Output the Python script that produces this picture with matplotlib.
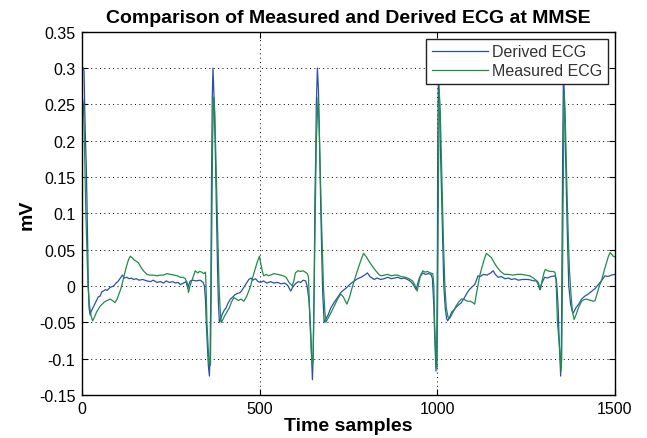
import matplotlib
matplotlib.use("Agg")
import matplotlib.pyplot as plt

# ---- data ----
derived_x = [0, 3, 5, 7, 9, 11, 13, 15, 17, 19, 22, 25, 30, 35, 40, 45, 50, 55, 59, 65, 70, 78, 88, 95, 100, 106, 113, 118, 125, 132, 138, 144, 152, 160, 170, 182, 192, 200, 210, 220, 229, 236, 245, 255, 262, 270, 276, 285, 292, 297, 300, 304, 312, 320, 332, 340, 344, 347, 349, 352, 355, 358, 360, 362, 364, 366, 368, 371, 374, 377, 379, 381, 383, 386, 389, 395, 400, 405, 410, 417, 422, 430, 438, 445, 452, 460, 469, 475, 480, 488, 495, 502, 510, 520, 530, 540, 549, 560, 570, 578, 587, 592, 600, 608, 615, 622, 629, 633, 638, 641, 643, 646, 648, 650, 653, 655, 657, 659, 662, 665, 668, 671, 674, 677, 681, 686, 692, 700, 710, 720, 728, 735, 745, 755, 766, 775, 785, 795, 803, 810, 822, 830, 840, 850, 860, 870, 880, 888, 898, 906, 916, 925, 932, 940, 945, 950, 959, 966, 975, 982, 986, 990, 993, 996, 998, 1000, 1001, 1003, 1006, 1009, 1012, 1015, 1018, 1022, 1026, 1029, 1035, 1040, 1048, 1055, 1060, 1067, 1075, 1083, 1090, 1098, 1105, 1110, 1114, 1120, 1130, 1140, 1150, 1157, 1163, 1171, 1180, 1190, 1200, 1208, 1218, 1228, 1240, 1255, 1265, 1272, 1279, 1284, 1288, 1294, 1302, 1310, 1320, 1331, 1335, 1337, 1340, 1342, 1345, 1347, 1349, 1351, 1353, 1355, 1358, 1361, 1364, 1367, 1370, 1375, 1380, 1383, 1390, 1398, 1406, 1415, 1425, 1435, 1445, 1453, 1460, 1466, 1472, 1480, 1490, 1500]
derived_y = [0.30, 0.30, 0.295, 0.24, 0.20, 0.17, 0.12, 0.06, 0.0, -0.03, -0.04, -0.035, -0.03, -0.025, -0.02, -0.015, -0.014, -0.008, -0.007, -0.005, -0.006, -0.002, 0.0, 0.004, 0.006, 0.01, 0.015, 0.011, 0.012, 0.01, 0.011, 0.009, 0.01, 0.008, 0.009, 0.007, 0.006, 0.008, 0.005, 0.006, 0.004, 0.007, 0.005, 0.006, 0.004, 0.005, 0.002, 0.004, 0.006, -0.003, 0.002, 0.007, 0.008, 0.007, 0.008, 0.005, 0.0, -0.02, -0.05, -0.08, -0.11, -0.124, -0.09, 0.0, 0.15, 0.26, 0.30, 0.26, 0.20, 0.12, 0.07, 0.02, -0.02, -0.05, -0.046, -0.038, -0.033, -0.03, -0.024, -0.018, -0.016, -0.012, -0.01, -0.009, -0.004, 0.002, 0.009, 0.011, 0.008, 0.01, 0.006, 0.005, 0.007, 0.004, 0.006, 0.004, 0.005, 0.003, 0.004, 0.001, -0.007, -0.002, 0.003, 0.006, 0.005, 0.008, 0.007, 0.0, -0.018, -0.04, -0.06, -0.10, -0.129, -0.10, 0.0, 0.12, 0.17, 0.25, 0.30, 0.27, 0.20, 0.12, 0.05, -0.01, -0.05, -0.045, -0.04, -0.03, -0.022, -0.015, -0.009, -0.006, -0.002, 0.003, 0.007, 0.01, 0.012, 0.015, 0.018, 0.013, 0.009, 0.011, 0.009, 0.01, 0.012, 0.01, 0.011, 0.012, 0.01, 0.011, 0.009, 0.006, 0.002, -0.005, 0.004, 0.012, 0.018, 0.016, 0.017, 0.016, 0.01, -0.028, -0.08, -0.117, -0.09, 0.05, 0.20, 0.30, 0.25, 0.18, 0.12, 0.06, 0.0, -0.03, -0.045, -0.048, -0.042, -0.036, -0.032, -0.028, -0.026, -0.023, -0.017, -0.01, -0.005, -0.001, 0.002, 0.008, 0.014, 0.013, 0.016, 0.015, 0.018, 0.021, 0.016, 0.012, 0.013, 0.01, 0.011, 0.009, 0.01, 0.008, 0.009, 0.009, 0.008, 0.007, 0.007, 0.002, -0.005, 0.004, 0.012, 0.011, 0.013, 0.014, 0.008, -0.005, -0.03, -0.062, -0.10, -0.124, -0.09, 0.05, 0.20, 0.30, 0.25, 0.18, 0.11, 0.05, 0.0, -0.025, -0.035, -0.037, -0.03, -0.025, -0.018, -0.014, -0.011, -0.007, -0.003, 0.002, 0.006, 0.01, 0.014, 0.013, 0.015, 0.016]

measured_x = [0, 3, 5, 8, 10, 13, 16, 20, 24, 29, 35, 40, 45, 50, 56, 62, 70, 78, 85, 92, 98, 104, 111, 118, 125, 130, 135, 140, 146, 152, 158, 165, 172, 182, 190, 200, 210, 219, 228, 238, 248, 258, 268, 276, 284, 290, 295, 299, 303, 309, 314, 318, 325, 330, 337, 342, 347, 349, 351, 354, 356, 359, 361, 363, 365, 367, 370, 373, 376, 379, 382, 385, 388, 391, 394, 400, 407, 414, 420, 427, 434, 440, 447, 455, 462, 468, 474, 480, 486, 492, 499, 503, 507, 511, 518, 524, 530, 540, 550, 559, 566, 574, 582, 588, 591, 596, 600, 607, 615, 622, 628, 634, 637, 639, 641, 644, 646, 648, 650, 653, 656, 659, 664, 667, 670, 673, 676, 679, 683, 686, 690, 697, 705, 712, 720, 728, 735, 740, 745, 752, 760, 770, 778, 785, 792, 800, 806, 813, 820, 828, 835, 841, 850, 860, 870, 880, 888, 898, 910, 920, 930, 936, 943, 948, 953, 959, 965, 972, 980, 987, 990, 992, 995, 997, 999, 1001, 1003, 1005, 1008, 1011, 1014, 1017, 1021, 1025, 1030, 1034, 1040, 1046, 1052, 1060, 1067, 1075, 1080, 1086, 1093, 1100, 1105, 1110, 1114, 1119, 1125, 1132, 1138, 1145, 1152, 1160, 1168, 1176, 1183, 1189, 1200, 1212, 1225, 1237, 1248, 1260, 1270, 1278, 1284, 1290, 1295, 1300, 1304, 1310, 1318, 1325, 1331, 1334, 1336, 1338, 1342, 1345, 1348, 1350, 1352, 1354, 1357, 1360, 1363, 1366, 1369, 1372, 1376, 1380, 1385, 1390, 1395, 1400, 1406, 1412, 1419, 1426, 1433, 1440, 1444, 1450, 1456, 1463, 1470, 1476, 1481, 1486, 1490, 1495, 1500]
measured_y = [0.26, 0.25, 0.22, 0.15, 0.10, 0.05, 0.0, -0.025, -0.04, -0.048, -0.042, -0.036, -0.032, -0.028, -0.025, -0.022, -0.02, -0.018, -0.02, -0.023, -0.018, -0.01, 0.0, 0.015, 0.028, 0.036, 0.041, 0.039, 0.036, 0.034, 0.032, 0.026, 0.021, 0.016, 0.015, 0.015, 0.014, 0.015, 0.015, 0.017, 0.016, 0.015, 0.014, 0.012, 0.012, 0.01, 0.005, -0.009, 0.0, 0.008, 0.015, 0.021, 0.018, 0.02, 0.019, 0.017, 0.019, -0.01, -0.05, -0.08, -0.101, -0.11, -0.108, 0.0, 0.12, 0.20, 0.26, 0.24, 0.18, 0.12, 0.06, 0.0, -0.03, -0.05, -0.048, -0.042, -0.036, -0.03, -0.022, -0.016, -0.018, -0.02, -0.018, -0.021, -0.015, -0.008, 0.0, 0.012, 0.022, 0.032, 0.041, 0.03, 0.02, 0.014, 0.016, 0.014, 0.015, 0.017, 0.016, 0.015, 0.014, 0.012, 0.005, 0.002, 0.0, 0.008, 0.018, 0.021, 0.02, 0.021, 0.019, 0.017, 0.012, -0.02, -0.05, -0.08, -0.10, -0.11, -0.10, 0.0, 0.10, 0.20, 0.26, 0.22, 0.16, 0.10, 0.05, 0.0, -0.035, -0.05, -0.046, -0.04, -0.032, -0.025, -0.017, -0.011, -0.015, -0.02, -0.025, -0.016, -0.002, 0.014, 0.026, 0.036, 0.045, 0.04, 0.035, 0.03, 0.025, 0.02, 0.016, 0.014, 0.015, 0.016, 0.014, 0.015, 0.015, 0.013, 0.012, 0.01, 0.007, 0.002, -0.007, 0.005, 0.015, 0.021, 0.019, 0.02, 0.018, 0.017, 0.0, -0.05, -0.09, -0.11, -0.112, 0.0, 0.15, 0.27, 0.24, 0.18, 0.12, 0.06, 0.0, -0.03, -0.043, -0.045, -0.04, -0.034, -0.028, -0.022, -0.018, -0.018, -0.02, -0.021, -0.021, -0.023, -0.025, -0.01, 0.0, 0.014, 0.025, 0.037, 0.045, 0.042, 0.039, 0.032, 0.026, 0.021, 0.018, 0.016, 0.016, 0.015, 0.016, 0.016, 0.015, 0.014, 0.011, 0.008, 0.005, -0.005, 0.008, 0.018, 0.023, 0.021, 0.02, 0.02, 0.019, 0.01, -0.02, -0.05, -0.075, -0.092, -0.117, -0.10, 0.0, 0.12, 0.27, 0.23, 0.17, 0.11, 0.06, 0.02, -0.01, -0.035, -0.046, -0.04, -0.033, -0.027, -0.021, -0.019, -0.018, -0.019, -0.02, -0.021, -0.02, -0.01, 0.0, 0.009, 0.022, 0.032, 0.04, 0.046, 0.044, 0.041, 0.04]

x_ticks = [0, 500, 1000, 1500]
y_ticks = [-0.15, -0.1, -0.05, 0, 0.05, 0.1, 0.15, 0.2, 0.25, 0.3, 0.35]
y_tick_labels = ["-0.15", "-0.1", "-0.05", "0", "0.05", "0.1", "0.15", "0.2", "0.25", "0.3", "0.35"]
series_names = ["Derived ECG", "Measured ECG"]
title = "Comparison of Measured and Derived ECG at MMSE"
x_label = "Time samples"
y_label = "mV"

# ---- figure ----
plt.rcParams['font.family'] = ['Liberation Sans', 'DejaVu Sans']
fig = plt.figure(figsize=(6.47, 4.39), dpi=100)
ax = fig.add_axes([0.1272, 0.098, 0.8233, 0.8275])

blue = '#2a4fb0'
green = '#1f8c4a'
ax.plot(derived_x, derived_y, color=blue, lw=0.9, label=series_names[0])
ax.plot(measured_x, measured_y, color=green, lw=0.9, label=series_names[1])

ax.set_xlim(0, 1500)
ax.set_ylim(-0.15, 0.35)
ax.set_xticks(x_ticks)
ax.set_xticklabels([str(t) for t in x_ticks])
ax.set_yticks(y_ticks)
ax.set_yticklabels(y_tick_labels)
ax.tick_params(direction='in', length=4, width=0.8, top=True, right=True,
               labelsize=11.5, colors='black', pad=5)
ax.tick_params(axis='x', pad=4)
ax.grid(True, color='black', linestyle=(0, (1, 3.5)), linewidth=0.7)
for s in ax.spines.values():
    s.set_linewidth(1.0)
    s.set_color('black')

ax.set_title(title, fontsize=14, fontweight='bold', pad=7)
ax.set_xlabel(x_label, fontsize=14, fontweight='bold', labelpad=1)
ax.set_ylabel(y_label, fontsize=14, fontweight='bold', labelpad=2)

leg = ax.legend(loc='upper right', fontsize=11.5, frameon=True, fancybox=False,
                edgecolor='#222222', framealpha=1, borderaxespad=0.45,
                handlelength=3.5, handletextpad=0.25, borderpad=0.35,
                labelspacing=0.25)
leg.get_frame().set_linewidth(1.0)
for t in leg.get_texts():
    t.set_color('#333333')

fig.savefig('out.png', dpi=100)
